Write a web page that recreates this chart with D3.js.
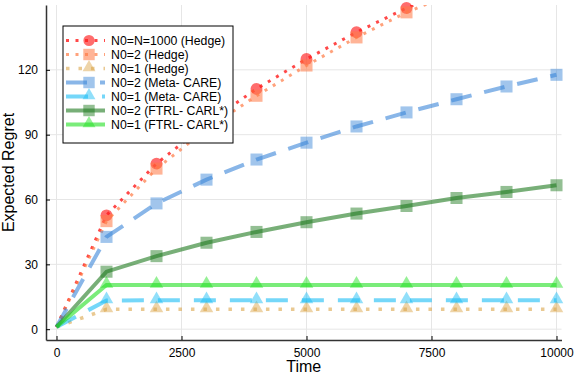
<!DOCTYPE html>
<html>
<head>
<meta charset="utf-8">
<script src="https://cdn.jsdelivr.net/npm/d3@7"></script>
<style>
  body { margin: 0; background: #fff; }
  text { font-family: "Liberation Sans", Arial, Helvetica, sans-serif; fill: #000; }
</style>
</head>
<body>
<div id="chart"></div>
<script>
// ---- data ----
const times = [0, 1000, 2000, 3000, 4000, 5000, 6000, 7000, 8000, 9000, 10000];
const seriesNames = [
  'N0=N=1000 (Hedge)', 'N0=2 (Hedge)', 'N0=1 (Hedge)',
  'N0=2 (Meta- CARE)', 'N0=1 (Meta- CARE)',
  'N0=2 (FTRL- CARL*)', 'N0=1 (FTRL- CARL*)'
];
const hedgeFull = [1, 52.7, 76.6, 95, 111.2, 125, 137.4, 148.6, 158, 168, 177];
const hedge2 = [1, 50, 74.3, 92.5, 108, 122, 135, 146.6, 156, 165, 174];
const hedge1 = [1, 9.2, 9.2, 9.2, 9.2, 9.2, 9.2, 9.2, 9.2, 9.2, 9.2];
const metaCare2 = [1, 42.7, 58.2, 69.2, 78.5, 86.3, 93.8, 100.3, 106.4, 112.3, 117.7];
const metaCare1 = [1, 13.3, 13.4, 13.4, 13.4, 13.4, 13.4, 13.4, 13.4, 13.4, 13.4];
const ftrl2 = [1, 26.6, 33.8, 40, 45, 49.5, 53.5, 57, 60.7, 63.5, 66.6];
const ftrl1 = [1, 20.5, 20.5, 20.5, 20.5, 20.5, 20.5, 20.5, 20.5, 20.5, 20.5];
const xTicks = [0, 2500, 5000, 7500, 10000];
const yTicks = [0, 30, 60, 90, 120];

// styles per series
const seriesStyles = [
  {color: '#ff1a1a', alpha: 0.8, width: 3, dash: '3,6.5', marker: 'circle'},
  {color: '#ff7a45', alpha: 0.7, width: 3, dash: '3,6.5', marker: 'square'},
  {color: '#dba549', alpha: 0.6, width: 3.5, dash: '3.5,9', marker: 'triangle'},
  {color: '#3a86d8', alpha: 0.6, width: 4, dash: '21,13', marker: 'square'},
  {color: '#19bdf5', alpha: 0.6, width: 4, dash: '22,14', marker: 'triangle'},
  {color: '#1e7a1e', alpha: 0.6, width: 4, dash: null, marker: 'square'},
  {color: '#22e022', alpha: 0.6, width: 4, dash: null, marker: 'triangle'}
];
const seriesValues = [hedgeFull, hedge2, hedge1, metaCare2, metaCare1, ftrl2, ftrl1];

const W = 574, H = 374;
const plot = {left: 46, right: 561.5, top: 5, bottom: 340};

const svg = d3.select('#chart').append('svg')
  .attr('width', W).attr('height', H);

const x = d3.scaleLinear().domain([-210, 10100]).range([plot.left, plot.right]);
const y = d3.scaleLinear().domain([-5, 150]).range([plot.bottom, plot.top]);

// grid
const grid = svg.append('g').attr('stroke', '#e6e6e6').attr('stroke-width', 1);
grid.selectAll('.gx').data(xTicks).join('line')
  .attr('x1', d => x(d)).attr('x2', d => x(d))
  .attr('y1', plot.top).attr('y2', plot.bottom);
grid.selectAll('.gy').data(yTicks).join('line')
  .attr('x1', plot.left).attr('x2', plot.right)
  .attr('y1', d => y(d)).attr('y2', d => y(d));

// clip for lines
svg.append('defs').append('clipPath').attr('id', 'plot-clip')
  .append('rect')
  .attr('x', plot.left).attr('y', plot.top)
  .attr('width', plot.right - plot.left).attr('height', plot.bottom - plot.top);

const line = d3.line().x(d => x(d.t)).y(d => y(d.v));

const symbolFor = m => m === 'circle' ? d3.symbolCircle
  : m === 'square' ? d3.symbolSquare : d3.symbolTriangle;
const symbolSize = m => m === 'circle' ? 110 : m === 'square' ? 145 : 80;

const series = seriesNames.map((name, i) => ({
  name, style: seriesStyles[i],
  points: times.map((t, j) => ({t, v: seriesValues[i][j]}))
}));

series.forEach(s => {
  const st = s.style;
  svg.append('path')
    .attr('clip-path', 'url(#plot-clip)')
    .attr('d', line(s.points))
    .attr('fill', 'none')
    .attr('stroke', st.color)
    .attr('stroke-opacity', st.alpha)
    .attr('stroke-width', st.width)
    .attr('stroke-dasharray', st.dash);

  const pts = s.points.filter(p => p.t > 0 && p.v <= 150);
  svg.append('g').selectAll('path').data(pts).join('path')
    .attr('transform', p => `translate(${x(p.t)},${y(p.v) + (st.marker === 'triangle' ? -1 : 0)})`)
    .attr('d', d3.symbol().type(symbolFor(st.marker)).size(symbolSize(st.marker)))
    .attr('fill', st.color)
    .attr('fill-opacity', st.alpha * 0.8);
});

// axes (ticks pointing inwards, only left and bottom)
const xAxis = svg.append('g').attr('transform', `translate(0,${plot.bottom})`)
  .call(d3.axisBottom(x).tickValues(xTicks).tickFormat(d3.format('d'))
    .tickSize(-4).tickSizeOuter(0).tickPadding(8));
const yAxis = svg.append('g').attr('transform', `translate(${plot.left},0)`)
  .call(d3.axisLeft(y).tickValues(yTicks).tickFormat(d3.format('d'))
    .tickSize(-4).tickSizeOuter(0).tickPadding(8));
[xAxis, yAxis].forEach(a => {
  a.select('.domain').attr('stroke', '#333').attr('stroke-width', 1.5);
  a.selectAll('.tick line').attr('stroke', '#000');
  a.selectAll('.tick text').attr('font-size', 12)
    .attr('font-family', '"Liberation Sans", Arial, sans-serif').attr('fill', '#000');
});

svg.append('text').attr('x', (plot.left + plot.right) / 2).attr('y', 372)
  .attr('text-anchor', 'middle').attr('font-size', 16).text('Time');
svg.append('text')
  .attr('transform', `translate(14,${(plot.top + plot.bottom) / 2}) rotate(-90)`)
  .attr('text-anchor', 'middle').attr('font-size', 16).text('Expected Regret');

// legend
const lg = svg.append('g');
lg.append('rect').attr('x', 63).attr('y', 26).attr('width', 170).attr('height', 117)
  .attr('fill', '#fff').attr('stroke', '#000').attr('stroke-width', 1);
series.forEach((s, i) => {
  const st = s.style;
  const ly = 40.5 + i * 14;
  lg.append('line').attr('x1', 66).attr('x2', 105).attr('y1', ly).attr('y2', ly)
    .attr('stroke', st.color).attr('stroke-opacity', st.alpha)
    .attr('stroke-width', st.width).attr('stroke-dasharray', st.dash);
  lg.append('path')
    .attr('transform', `translate(89,${ly + (st.marker === 'triangle' ? -1 : 0)})`)
    .attr('d', d3.symbol().type(symbolFor(st.marker)).size(symbolSize(st.marker) * 0.9))
    .attr('fill', st.color).attr('fill-opacity', st.alpha * 0.8);
  lg.append('text').attr('x', 111).attr('y', ly + 4.5).attr('font-size', 12.3).text(s.name);
});
</script>
</body>
</html>
